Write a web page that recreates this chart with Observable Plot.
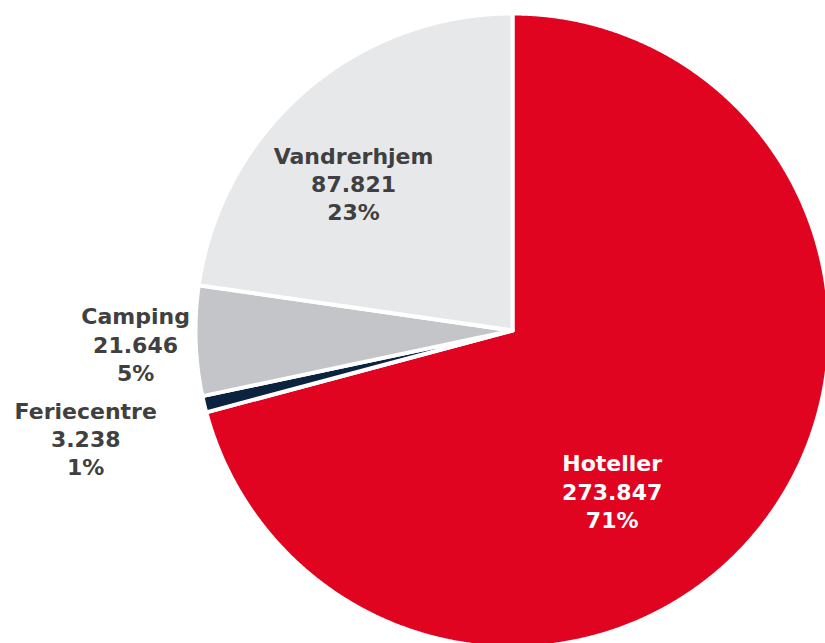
<!DOCTYPE html>
<html>
<head>
<meta charset="utf-8">
<script src="https://cdn.jsdelivr.net/npm/d3@7"></script>
<script src="https://cdn.jsdelivr.net/npm/@observablehq/plot@0.6"></script>
<style>
  html, body { margin: 0; padding: 0; background: #fff; }
  #chart svg { display: block; }
</style>
</head>
<body>
<div id="chart"></div>
<script>
// Data
const categories = ["Hoteller", "Feriecentre", "Camping", "Vandrerhjem"];
const values = [273847, 3238, 21646, 87821];
const valueLabels = ["273.847", "3.238", "21.646", "87.821"];
const percentLabels = ["71%", "1%", "5%", "23%"];
const colors = ["#e00420", "#0c2340", "#c4c5c9", "#e7e8ea"];
const textColors = ["#ffffff", "#404040", "#404040", "#404040"];
// label placement: [angle in degrees clockwise from 12 o'clock, radius fraction]
const labelPolar = [[148.4, 0.60], [255.6, 1.39], [267.7, 1.19], [312.5, 0.68]];

// Layout
const W = 825, H = 643;
const cx = 512, cy = 330, R = 317;

const pie = d3.pie().sort(null).value(d => d.value).startAngle(0).endAngle(2 * Math.PI);
const rows = categories.map((c, i) => ({name: c, value: values[i], color: colors[i]}));
const arcs = pie(rows);

const pts = [];
arcs.forEach(a => {
  const n = Math.max(2, Math.ceil((a.endAngle - a.startAngle) / (Math.PI / 720)));
  pts.push({name: a.data.name, color: a.data.color, x: cx, y: cy});
  for (let k = 0; k <= n; k++) {
    const t = a.startAngle + (a.endAngle - a.startAngle) * k / n;
    pts.push({name: a.data.name, color: a.data.color, x: cx + R * Math.sin(t), y: cy - R * Math.cos(t)});
  }
  pts.push({name: a.data.name, color: a.data.color, x: cx, y: cy});
});

const labels = categories.map((c, i) => {
  const t = labelPolar[i][0] * Math.PI / 180, r = labelPolar[i][1] * R;
  return {text: `${c}\n${valueLabels[i]}\n${percentLabels[i]}`, x: cx + r * Math.sin(t), y: cy - r * Math.cos(t), color: textColors[i]};
});

const chart = Plot.plot({
  width: W, height: H,
  margin: 0,
  x: {domain: [0, W], range: [0, W], axis: null},
  y: {domain: [0, H], range: [0, H], axis: null},
  style: {fontFamily: "DejaVu Sans", background: "#fff"},
  marks: [
    Plot.line(pts, {x: "x", y: "y", z: "name", fill: "color", stroke: "#ffffff", strokeWidth: 4, strokeLinejoin: "round", curve: "linear"}),
    Plot.text(labels, {x: "x", y: "y", text: "text", fill: "color", fontSize: 22, fontWeight: "bold", lineHeight: 1.28, textAnchor: "middle", lineAnchor: "middle", dy: -2})
  ]
});
document.getElementById("chart").appendChild(chart);
</script>
</body>
</html>
